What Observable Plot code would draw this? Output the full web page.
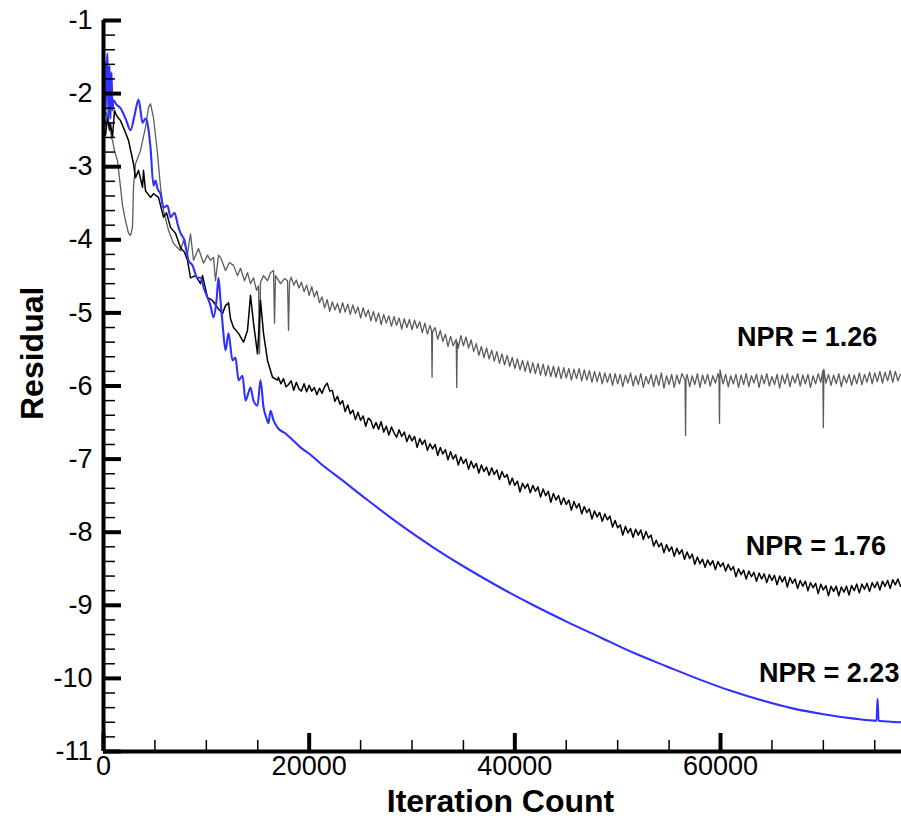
<!DOCTYPE html>
<html><head><meta charset="utf-8">
<script src="https://cdn.jsdelivr.net/npm/d3@7"></script>
<script src="https://cdn.jsdelivr.net/npm/@observablehq/plot@0.6"></script>
<style>html,body{margin:0;padding:0;background:#fff}</style>
</head><body><div id="chart"></div>
<script>
// ---- tick values ----
const xMajorTicks = [0, 20000, 40000, 60000];
const xMinorTicks = [5000, 10000, 15000, 25000, 30000, 35000, 45000, 50000, 55000, 65000, 70000, 75000];
const yMajorTicks = [-1, -2, -3, -4, -5, -6, -7, -8, -9, -10, -11];
const yMinorTicks = [-1.2, -1.4, -1.6, -1.8, -2.2, -2.4, -2.6, -2.8, -3.2, -3.4, -3.6, -3.8,
  -4.2, -4.4, -4.6, -4.8, -5.2, -5.4, -5.6, -5.8, -6.2, -6.4, -6.6, -6.8, -7.2, -7.4, -7.6, -7.8,
  -8.2, -8.4, -8.6, -8.8, -9.2, -9.4, -9.6, -9.8, -10.2, -10.4, -10.6, -10.8];

// ---- series: [iteration, log residual] ----
const npr126 = [
  [0,-2.30],[195,-2.44],[292,-2.26],[486,-2.37],[681,-2.50],[778,-2.61],[875,-2.64],[1070,-2.78],
  [1362,-2.92],[1653,-3.28],[1848,-3.53],[2140,-3.74],[2431,-3.91],[2626,-3.94],[2820,-3.83],[2918,-3.28],
  [3112,-2.96],[3598,-2.78],[4085,-2.46],[4376,-2.19],[4571,-2.14],[4863,-2.33],[5252,-2.82],[5543,-3.28],
  [5835,-3.60],[6321,-3.87],[6808,-4.05],[7488,-4.15],[7780,-4.01],[8169,-4.19],[8461,-3.92],[8753,-4.28],
  [9239,-4.12],[9725,-4.32],[10114,-4.21],[10406,-4.28],[10698,-4.24],[10892,-4.56],[11184,-4.21],[11378,-4.24],
  [11865,-4.42],[12253,-4.31],[12643,-4.35],[13032,-4.49],[13323,-4.39],[13712,-4.56],[14004,-4.45],[14296,-4.60],
  [14588,-4.52],[14880,-4.69],[15074,-4.63],[15171,-5.56],[15268,-4.58],[15560,-4.49],[15949,-4.56],[16241,-4.45],
  [16533,-4.42],[16630,-5.14],[16727,-4.49],[17214,-4.60],[17603,-4.53],[17894,-4.56],[17991,-5.24],[18089,-4.58],
  [18250,-4.51],[18500,-4.62],[18750,-4.55],[19000,-4.66],[19250,-4.58],[19500,-4.71],[19750,-4.62],[20000,-4.76],
  [20250,-4.64],[20500,-4.78],[20750,-4.70],[21000,-4.86],[21250,-4.78],[21500,-4.93],[21750,-4.82],[22000,-4.98],
  [22250,-4.85],[22500,-4.96],[22750,-4.87],[23000,-5.00],[23250,-4.86],[23500,-4.99],[23750,-4.88],[24000,-5.02],
  [24250,-4.89],[24500,-5.01],[24750,-4.92],[25000,-5.07],[25250,-4.93],[25500,-5.05],[25750,-4.96],[26000,-5.11],
  [26250,-4.98],[26500,-5.12],[26750,-5.00],[27000,-5.16],[27250,-5.02],[27500,-5.14],[27750,-5.04],[28000,-5.18],
  [28250,-5.05],[28500,-5.17],[28750,-5.07],[29000,-5.22],[29250,-5.08],[29500,-5.20],[29750,-5.09],[30000,-5.23],
  [30250,-5.10],[30500,-5.21],[30750,-5.12],[31000,-5.27],[31250,-5.14],[31500,-5.29],[31750,-5.17],[31900,-5.24],
  [31950,-5.88],[32000,-5.26],[32250,-5.20],[32500,-5.36],[32750,-5.24],[33000,-5.39],[33250,-5.29],[33500,-5.46],
  [33750,-5.32],[34000,-5.45],[34300,-5.36],[34350,-6.02],[34400,-5.40],[34500,-5.48],[34750,-5.31],[35000,-5.45],
  [35250,-5.33],[35500,-5.48],[35750,-5.37],[36000,-5.53],[36250,-5.42],[36500,-5.58],[36750,-5.46],[37000,-5.61],
  [37250,-5.48],[37500,-5.63],[37750,-5.51],[38000,-5.66],[38250,-5.53],[38500,-5.69],[38750,-5.56],[39000,-5.71],
  [39250,-5.58],[39500,-5.73],[39750,-5.61],[40000,-5.76],[40250,-5.63],[40500,-5.78],[40750,-5.65],[41000,-5.80],
  [41250,-5.66],[41500,-5.82],[41750,-5.68],[42000,-5.83],[42250,-5.69],[42500,-5.85],[42750,-5.70],[43000,-5.86],
  [43250,-5.72],[43500,-5.87],[43750,-5.73],[44000,-5.88],[44250,-5.74],[44500,-5.90],[44750,-5.75],[45000,-5.89],
  [45250,-5.76],[45500,-5.92],[45750,-5.77],[46000,-5.90],[46250,-5.76],[46500,-5.93],[46750,-5.78],[47000,-5.92],
  [47250,-5.79],[47500,-5.95],[47750,-5.80],[48000,-5.94],[48250,-5.81],[48500,-5.97],[48750,-5.82],[49000,-5.95],
  [49250,-5.83],[49500,-5.99],[49750,-5.83],[50000,-5.97],[50250,-5.84],[50500,-6.01],[50750,-5.85],[51000,-5.96],
  [51250,-5.82],[51500,-6.00],[51750,-5.86],[52000,-5.98],[52250,-5.83],[52500,-6.02],[52750,-5.87],[53000,-5.97],
  [53250,-5.84],[53500,-6.01],[53750,-5.85],[54000,-5.99],[54250,-5.82],[54500,-6.03],[54750,-5.86],[55000,-5.98],
  [55250,-5.84],[55500,-6.02],[55750,-5.85],[56000,-5.97],[56250,-5.83],[56550,-5.92],[56600,-6.68],[56650,-5.90],
  [56750,-5.84],[57000,-6.01],[57250,-5.86],[57500,-5.98],[57750,-5.83],[58000,-6.02],[58250,-5.85],[58500,-5.97],
  [58750,-5.84],[59000,-6.00],[59250,-5.86],[59500,-5.96],[59750,-5.83],[59850,-5.88],[59900,-6.51],[59950,-5.78],
  [60250,-5.97],[60500,-5.84],[60750,-6.01],[61000,-5.86],[61250,-5.97],[61500,-5.84],[61750,-6.02],[62000,-5.85],
  [62250,-5.98],[62500,-5.83],[62750,-6.01],[63000,-5.86],[63250,-5.96],[63500,-5.84],[63750,-6.02],[64000,-5.85],
  [64250,-5.97],[64500,-5.83],[64750,-6.00],[65000,-5.87],[65250,-5.98],[65500,-5.84],[65750,-6.03],[66000,-5.85],
  [66250,-5.97],[66500,-5.83],[66750,-6.01],[67000,-5.86],[67250,-5.96],[67500,-5.83],[67750,-6.00],[68000,-5.85],
  [68250,-5.97],[68500,-5.84],[68750,-6.02],[69000,-5.86],[69250,-5.97],[69500,-5.83],[69750,-5.95],[69950,-5.79],
  [70000,-6.57],[70050,-5.77],[70250,-5.96],[70500,-5.84],[70750,-5.99],[71000,-5.85],[71250,-5.97],[71500,-5.83],
  [71750,-6.01],[72000,-5.86],[72250,-5.96],[72500,-5.84],[72750,-5.99],[73000,-5.85],[73250,-5.97],[73500,-5.82],
  [73750,-5.98],[74000,-5.84],[74250,-5.95],[74500,-5.81],[74750,-5.97],[75000,-5.82],[75250,-5.94],[75500,-5.80],
  [75750,-5.96],[76000,-5.81],[76250,-5.93],[76500,-5.79],[76750,-5.95],[77000,-5.80],[77250,-5.93],[77500,-5.84]
];

const npr176 = [
  [0,-2.44],[195,-2.57],[389,-2.33],[584,-2.50],[681,-2.41],[875,-2.60],[1070,-2.23],[1264,-2.30],
  [1653,-2.37],[2042,-2.50],[2431,-2.64],[2918,-2.96],[3112,-3.15],[3404,-3.05],[3793,-3.28],[3890,-3.05],
  [4085,-3.33],[4571,-3.42],[4863,-3.37],[5349,-3.42],[5835,-3.69],[6127,-3.63],[6516,-3.83],[7002,-3.91],
  [7488,-4.11],[7877,-4.17],[8169,-4.28],[8461,-4.52],[8947,-4.49],[9433,-4.60],[9628,-4.49],[10114,-4.79],
  [10600,-4.83],[11087,-4.93],[11573,-5.01],[11865,-4.90],[12156,-4.86],[12351,-5.08],[12643,-5.20],[13129,-5.28],
  [13615,-5.40],[14004,-5.24],[14296,-4.76],[14588,-5.14],[14977,-5.56],[15268,-4.83],[15560,-5.28],[15949,-5.65],
  [16435,-5.88],[16922,-5.92],
  [17000,-5.88],[17250,-5.97],[17500,-5.90],[17750,-6.01],[18000,-5.98],[18250,-5.93],[18500,-6.06],[18750,-5.95],
  [19000,-6.04],[19250,-6.07],[19500,-5.97],[19750,-6.08],[20000,-5.99],[20250,-6.07],[20500,-6.02],[20750,-6.12],
  [21000,-6.03],[21250,-6.10],[21500,-6.01],[21750,-5.96],[22000,-6.07],[22250,-6.06],[22500,-6.21],[22750,-6.14],
  [23000,-6.25],[23250,-6.20],[23500,-6.35],[23750,-6.26],[24000,-6.38],[24250,-6.33],[24500,-6.46],[24750,-6.36],
  [25000,-6.47],[25250,-6.41],[25500,-6.55],[25750,-6.44],[26000,-6.47],[26250,-6.58],[26500,-6.50],[26750,-6.59],
  [27000,-6.49],[27250,-6.63],[27500,-6.55],[27750,-6.67],[28000,-6.56],[28250,-6.64],[28500,-6.70],[28750,-6.60],
  [29000,-6.69],[29250,-6.63],[29500,-6.76],[29750,-6.67],[30000,-6.75],[30250,-6.69],[30500,-6.84],[30750,-6.72],
  [31000,-6.80],[31250,-6.74],[31500,-6.88],[31750,-6.79],[32000,-6.86],[32250,-6.80],[32500,-6.95],[32750,-6.84],
  [33000,-6.93],[33250,-6.87],[33500,-7.01],[33750,-6.90],[34000,-7.00],[34250,-6.94],[34500,-7.08],[34750,-6.97],
  [35000,-7.06],[35250,-7.00],[35500,-7.14],[35750,-7.03],[36000,-7.12],[36250,-7.06],[36500,-7.19],[36750,-7.08],
  [37000,-7.17],[37250,-7.11],[37500,-7.22],[37750,-7.12],[38000,-7.21],[38250,-7.15],[38500,-7.28],[38750,-7.17],
  [39000,-7.25],[39250,-7.21],[39500,-7.35],[39750,-7.26],[40000,-7.36],[40250,-7.30],[40500,-7.45],[40750,-7.33],
  [41000,-7.40],[41250,-7.34],[41500,-7.46],[41750,-7.36],[42000,-7.44],[42250,-7.38],[42500,-7.52],[42750,-7.41],
  [43000,-7.50],[43250,-7.44],[43500,-7.59],[43750,-7.47],[44000,-7.56],[44250,-7.50],[44500,-7.62],[44750,-7.53],
  [45000,-7.62],[45250,-7.56],[45500,-7.70],[45750,-7.58],[46000,-7.67],[46250,-7.61],[46500,-7.75],[46750,-7.65],
  [47000,-7.73],[47250,-7.68],[47500,-7.82],[47750,-7.71],[48000,-7.79],[48250,-7.73],[48500,-7.85],[48750,-7.75],
  [49000,-7.83],[49250,-7.78],[49500,-7.93],[49750,-7.84],[50000,-7.94],[50250,-7.90],[50500,-8.04],[50750,-7.92],
  [51000,-8.01],[51250,-7.95],[51500,-8.07],[51750,-7.96],[52000,-8.04],[52250,-7.97],[52500,-8.10],[52750,-7.99],
  [53000,-8.08],[53250,-8.04],[53500,-8.19],[53750,-8.11],[54000,-8.20],[54250,-8.15],[54500,-8.28],[54750,-8.17],
  [55000,-8.26],[55250,-8.20],[55500,-8.33],[55750,-8.22],[56000,-8.30],[56250,-8.24],[56500,-8.37],[56750,-8.27],
  [57000,-8.36],[57250,-8.30],[57500,-8.44],[57750,-8.34],[58000,-8.43],[58250,-8.37],[58500,-8.48],[58750,-8.38],
  [59000,-8.45],[59250,-8.39],[59500,-8.51],[59750,-8.40],[60000,-8.47],[60250,-8.42],[60500,-8.53],[60750,-8.44],
  [61000,-8.52],[61250,-8.47],[61500,-8.61],[61750,-8.50],[62000,-8.58],[62250,-8.52],[62500,-8.64],[62750,-8.53],
  [63000,-8.61],[63250,-8.55],[63500,-8.67],[63750,-8.56],[64000,-8.64],[64250,-8.57],[64500,-8.69],[64750,-8.58],
  [65000,-8.66],[65250,-8.59],[65500,-8.72],[65750,-8.60],[66000,-8.68],[66250,-8.61],[66500,-8.75],[66750,-8.62],
  [67000,-8.70],[67250,-8.64],[67500,-8.77],[67750,-8.66],[68000,-8.74],[68250,-8.67],[68500,-8.80],[68750,-8.69],
  [69000,-8.76],[69250,-8.70],[69500,-8.84],[69750,-8.71],[70000,-8.79],[70250,-8.73],[70500,-8.87],[70750,-8.74],
  [71000,-8.81],[71250,-8.74],[71500,-8.87],[71750,-8.75],[72000,-8.82],[72250,-8.74],[72500,-8.86],[72750,-8.73],
  [73000,-8.80],[73250,-8.71],[73500,-8.83],[73750,-8.71],[74000,-8.78],[74250,-8.70],[74500,-8.81],[74750,-8.69],
  [75000,-8.76],[75250,-8.68],[75500,-8.79],[75750,-8.67],[76000,-8.74],[76250,-8.66],[76500,-8.77],[76750,-8.65],
  [77000,-8.72],[77250,-8.64],[77500,-8.74]
];

const npr223 = [
  [0,-2.03],[97,-1.55],[195,-2.30],[292,-1.68],[389,-1.45],[486,-2.37],[584,-1.62],[681,-2.34],[778,-1.71],
  [875,-2.23],[973,-2.09],[1264,-2.15],[1653,-2.20],[2140,-2.34],[2626,-2.50],[3015,-2.30],[3404,-2.08],
  [3598,-2.23],[3793,-2.40],[4085,-2.34],[4279,-2.41],[4571,-2.74],[4863,-3.26],[5057,-3.19],[5252,-3.30],
  [5543,-3.37],[5835,-3.56],[6224,-3.53],[6516,-3.69],[6905,-3.63],[7197,-3.78],[7488,-3.91],[7877,-4.01],
  [8266,-4.28],[8655,-4.35],[9142,-4.52],[9433,-4.52],[9822,-4.69],[10114,-4.79],[10406,-4.90],[10698,-5.06],
  [10989,-4.83],[11184,-4.52],[11378,-4.83],[11573,-5.14],[11865,-5.51],[12156,-5.28],[12545,-5.65],[12837,-5.61],
  [13129,-5.92],[13518,-5.86],[13810,-6.20],[14101,-6.09],[14296,-6.02],[14588,-6.20],[14977,-6.27],[15268,-5.92],
  [15560,-6.29],[15852,-6.44],[16046,-6.51],[16241,-6.34],[16533,-6.47],[16922,-6.57],[17700,-6.65],[18478,-6.75],
  [19158,-6.84],[20131,-6.94],[21103,-7.06],[23048,-7.27],[25674,-7.56],[28883,-7.90],[32093,-8.21],[35399,-8.50],
  [38608,-8.76],[41818,-9.00],[45124,-9.23],[48333,-9.44],[51543,-9.65],[54849,-9.84],[58058,-10.02],[61000,-10.17],
  [64000,-10.30],[67000,-10.41],[70000,-10.49],[73000,-10.55],[75174,-10.58],[75272,-10.28],
  [75369,-10.58],[77508,-10.60]
];

// ---- curve labels ----
const labelText = ["NPR = 1.26", "NPR = 1.76", "NPR = 2.23"];
const labelIter = [61600, 62450, 63750];
const labelRes = [-5.33, -8.2, -9.93];
const labels = labelText.map((t, i) => ({t, x: labelIter[i], y: labelRes[i]}));

const W = 901, H = 819, mL = 103, mR = 0, mT = 20, mB = 68;
const fw = W - mL - mR, fh = H - mT - mB;
const FONT = "'Liberation Sans', Arial, Helvetica, sans-serif";

const chart = Plot.plot({
  width: W, height: H,
  marginLeft: mL, marginRight: mR, marginTop: mT, marginBottom: mB,
  style: {fontFamily: FONT, background: "#fff", color: "#000", overflow: "visible"},
  x: {domain: [0, 77600]},
  y: {domain: [-11, -1]},
  marks: [
    Plot.line(npr126, {x: d => d[0], y: d => d[1], stroke: "#5c5c5c", strokeWidth: 1.3}),
    Plot.line(npr176, {x: d => d[0], y: d => d[1], stroke: "#000", strokeWidth: 1.5}),
    Plot.line(npr223, {x: d => d[0], y: d => d[1], stroke: "#3030ff", strokeWidth: 2.1, curve: "monotone-x"}),
    Plot.text(labels, {x: "x", y: "y", text: "t", textAnchor: "start", fontSize: 27, fontWeight: "bold", fill: "#000"}),
    // axes lines
    Plot.ruleX([0], {x: d => d, stroke: "#000", strokeWidth: 4}),
    Plot.ruleY([-11], {y: d => d, stroke: "#000", strokeWidth: 4}),
    // inward ticks
    Plot.tickX(xMajorTicks, {x: d => d, insetTop: fh - 18, strokeWidth: 4}),
    Plot.tickX(xMinorTicks, {x: d => d, insetTop: fh - 11, strokeWidth: 1.5}),
    Plot.tickY(yMajorTicks, {y: d => d, insetRight: fw - 18, strokeWidth: 4}),
    Plot.tickY(yMinorTicks, {y: d => d, insetRight: fw - 12, strokeWidth: 1.5}),
    // tick labels
    Plot.axisX({ticks: xMajorTicks, tickSize: 0, tickPadding: 4, tickFormat: d => String(d), fontSize: 27, label: null}),
    Plot.axisY({ticks: yMajorTicks, tickSize: 0, tickPadding: 11, tickFormat: d => String(d), fontSize: 27, label: null}),
    // axis titles
    Plot.text(["Iteration Count"], {frameAnchor: "bottom", dy: 60, dx: -2, fontSize: 32, fontWeight: "bold"}),
    Plot.text(["Residual"], {frameAnchor: "left", rotate: -90, dx: -71, dy: 34, fontSize: 32, fontWeight: "bold"})
  ]
});
document.getElementById("chart").appendChild(chart);
</script>
</body></html>
